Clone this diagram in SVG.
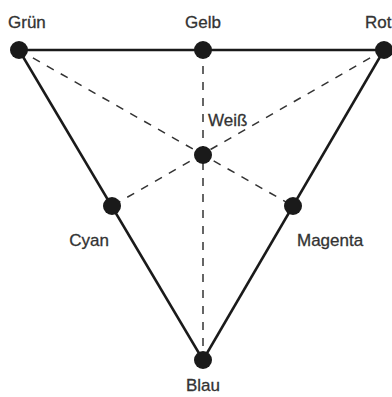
<svg xmlns="http://www.w3.org/2000/svg" width="392" height="397" viewBox="0 0 392 397">
<style>
.edge{stroke:#1a1a1a;stroke-width:2.5;fill:none}
.dash{stroke:#333;stroke-width:1.5;stroke-dasharray:8 8;fill:none}
.dot{fill:#1a1a1a}
text{font-family:"Liberation Sans",Arial,sans-serif;font-size:17px;fill:#333;stroke:#333;stroke-width:0.3}
</style>
<rect width="392" height="397" fill="#fff"/>
<g id="connectors">
<line class="dash" x1="19" y1="50" x2="293" y2="206"/>
<line class="dash" x1="384" y1="50" x2="112" y2="206"/>
<line class="dash" x1="203" y1="50" x2="203" y2="360"/>
<line class="edge" x1="19" y1="50" x2="384" y2="50"/>
<line class="edge" x1="19" y1="50" x2="203" y2="360"/>
<line class="edge" x1="384" y1="50" x2="203" y2="360"/>
</g>
<g id="gruen"><circle class="dot" cx="19" cy="50" r="9"/><text x="8" y="28">Grün</text></g>
<g id="gelb"><circle class="dot" cx="203" cy="50" r="9"/><text x="203" y="28" text-anchor="middle">Gelb</text></g>
<g id="rot"><circle class="dot" cx="384" cy="50" r="9"/><text x="365" y="28">Rot</text></g>
<g id="weiss"><circle class="dot" cx="203" cy="155" r="9"/><text x="208" y="126">Weiß</text></g>
<g id="cyan"><circle class="dot" cx="112" cy="206" r="9"/><text x="109" y="246" text-anchor="end">Cyan</text></g>
<g id="magenta"><circle class="dot" cx="293" cy="206" r="9"/><text x="297" y="246">Magenta</text></g>
<g id="blau"><circle class="dot" cx="203" cy="360" r="9"/><text x="203" y="391" text-anchor="middle">Blau</text></g>
</svg>
